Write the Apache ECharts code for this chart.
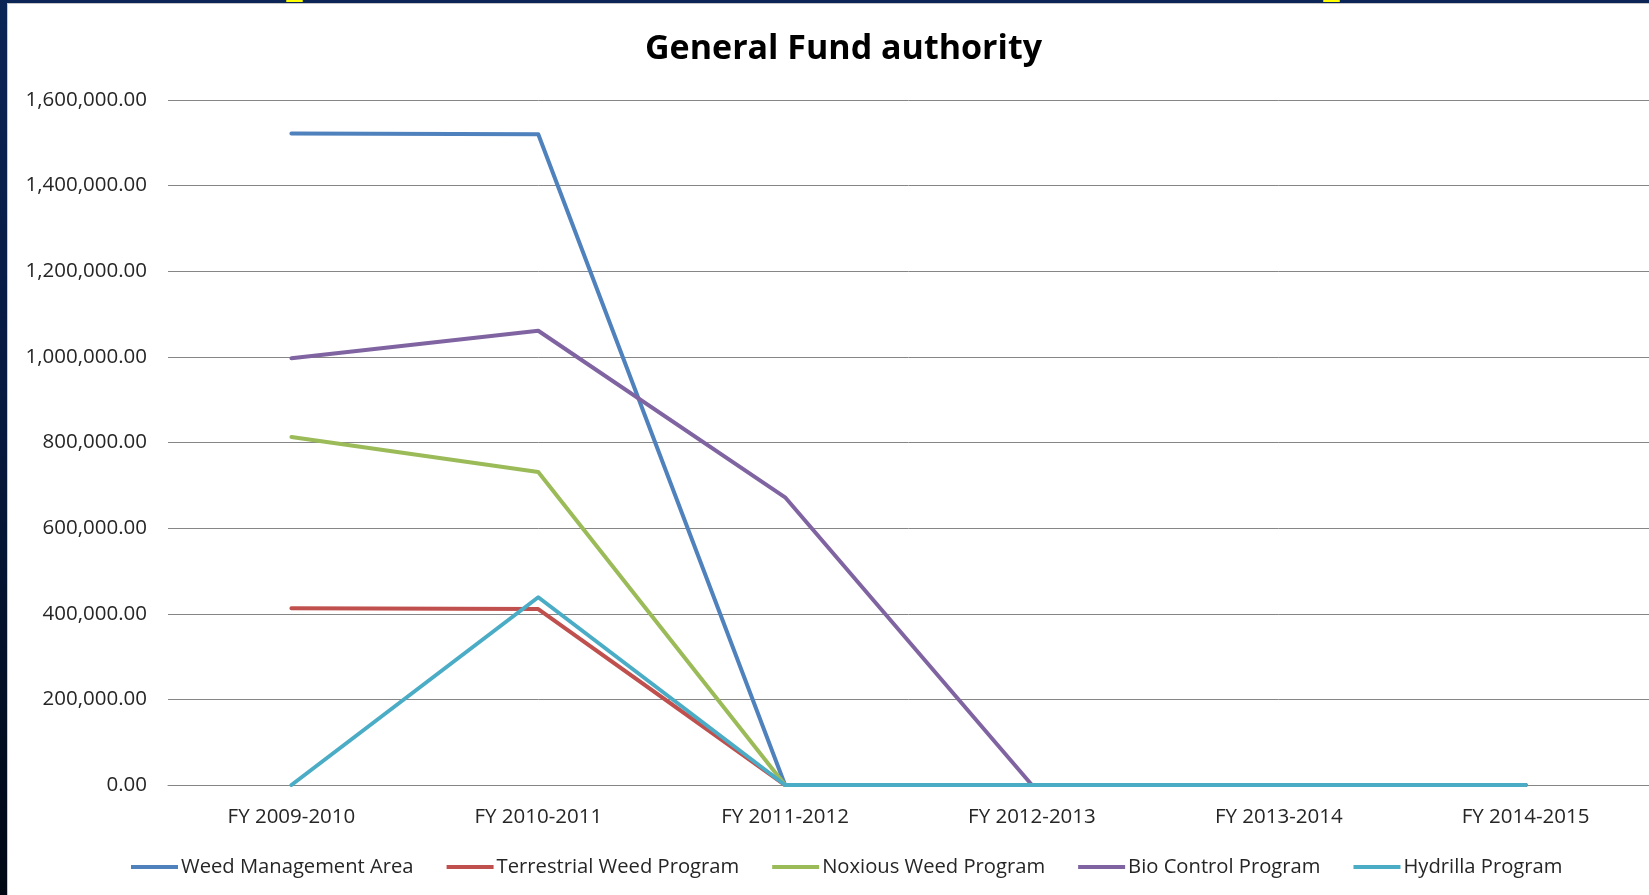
<!DOCTYPE html>
<html>
<head>
<meta charset="utf-8">
<script src="https://cdn.jsdelivr.net/npm/echarts@6/dist/echarts.min.js"></script>
<style>
html,body{margin:0;padding:0;background:#fff;}
#c{width:1649px;height:895px;}
</style>
</head>
<body>
<div id="c"></div>
<script>
var categories = ['FY 2009-2010','FY 2010-2011','FY 2011-2012','FY 2012-2013','FY 2013-2014','FY 2014-2015'];
var seriesNames = ['Weed Management Area','Terrestrial Weed Program','Noxious Weed Program','Bio Control Program','Hydrilla Program'];
var weedManagement = [1522000, 1520000, 0, 0, 0, 0];
var terrestrialWeed = [413000, 411000, 0, 0, 0, 0];
var noxiousWeed = [813000, 731000, 0, 0, 0, 0];
var bioControl = [997000, 1061000, 672000, 0, 0, 0];
var hydrilla = [0, 438500, 0, 0, 0, 0];
var yTicks = {min: 0, max: 1600000, interval: 200000};

var colors = ['#4F81BD','#C0504D','#9BBB59','#8064A2','#4BACC6'];
var values = [weedManagement, terrestrialWeed, noxiousWeed, bioControl, hydrilla];
var FONT = '"Open Sans", sans-serif';

function fmt(v){
  var s = Math.round(v).toString().replace(/\B(?=(\d{3})+(?!\d))/g, ',');
  return s + '.00';
}

var chart = echarts.init(document.getElementById('c'), null, {renderer:'canvas'});
chart.setOption({
  backgroundColor: '#ffffff',
  animation: false,
  color: colors,
  title: {
    text: 'General Fund authority',
    left: 640, top: 27,
    textStyle: {fontFamily: FONT, fontWeight: 'bold', fontSize: 34, color: '#000000'}
  },
  legend: {
    data: seriesNames,
    left: 126, top: 852,
    itemWidth: 47, itemHeight: 4, itemGap: 33,
    icon: 'rect',
    textStyle: {fontFamily: FONT, fontSize: 20.2, color: '#262626', padding: [0,0,0,-2]}
  },
  grid: {left: 168, right: 0, top: 100, bottom: 110, containLabel: false},
  xAxis: {
    type: 'category',
    data: categories,
    boundaryGap: true,
    axisLine: {show: true, lineStyle: {color: '#868686', width: 1}},
    axisTick: {show: false},
    axisLabel: {fontFamily: FONT, fontSize: 20.5, color: '#262626', margin: 22}
  },
  yAxis: {
    type: 'value',
    min: yTicks.min, max: yTicks.max, interval: yTicks.interval,
    axisLine: {show: false},
    axisTick: {show: false},
    splitLine: {lineStyle: {color: '#868686', width: 1}},
    axisLabel: {fontFamily: FONT, fontSize: 20.5, color: '#262626', margin: 21, formatter: fmt}
  },
  series: seriesNames.map(function(n, i){
    return {
      name: n, type: 'line', data: values[i],
      symbol: 'none', showSymbol: false,
      lineStyle: {width: 4, color: colors[i], cap: 'round', join: 'round'},
      itemStyle: {color: colors[i]}
    };
  }),
  graphic: [
    {type: 'rect', shape: {x: 0, y: 0, width: 1649, height: 3}, style: {fill: '#0b2557'}, z: 100},
    {type: 'rect', shape: {x: 0, y: 3, width: 1649, height: 1}, style: {fill: '#c8c8c8'}, z: 100},
    {type: 'rect', shape: {x: 0, y: 0, width: 7, height: 895},
      style: {fill: new echarts.graphic.LinearGradient(0,0,0,1,[{offset:0,color:'#0b2557'},{offset:0.5,color:'#06183d'},{offset:1,color:'#000814'}])}, z: 100},
    {type: 'rect', shape: {x: 7, y: 3, width: 1, height: 892}, style: {fill: '#c8c8c8'}, z: 100},
    {type: 'rect', shape: {x: 286, y: 0, width: 17, height: 2, r: 1}, style: {fill: '#ffff00'}, z: 101},
    {type: 'rect', shape: {x: 1323, y: 0, width: 17, height: 2, r: 1}, style: {fill: '#ffff00'}, z: 101}
  ]
});
</script>
</body>
</html>
